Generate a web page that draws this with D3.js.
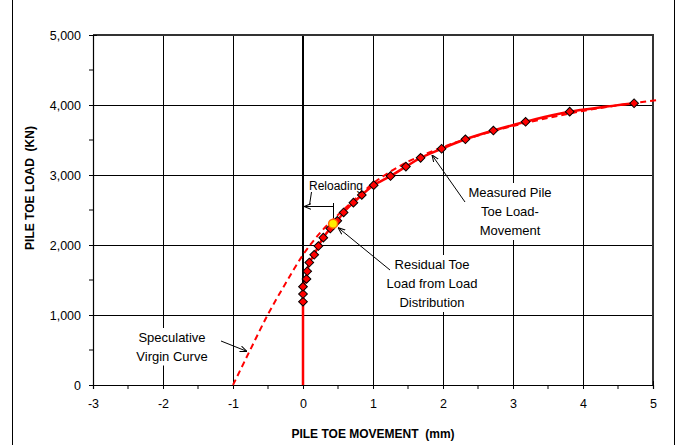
<!DOCTYPE html>
<html>
<head>
<meta charset="utf-8">
<script src="https://cdn.jsdelivr.net/npm/d3@7"></script>
<style>
  html, body { margin: 0; padding: 0; background: #fff; }
  svg { display: block; font-family: "Liberation Sans", Arial, sans-serif; }
</style>
</head>
<body>
<svg id="chart" width="680" height="445"></svg>
<script>
// Measured pile toe load vs. movement (reloading test)
const measuredMove = [0, 0, 0, 0.05, 0.06, 0.09, 0.16, 0.22, 0.29, 0.39, 0.49, 0.58, 0.72, 0.84, 1.01, 1.25, 1.47, 1.68, 1.98, 2.32, 2.72, 3.18, 3.81, 4.73];
const measuredLoad = [1190, 1300, 1405, 1515, 1625, 1750, 1860, 1985, 2105, 2235, 2345, 2465, 2605, 2715, 2855, 2985, 3120, 3245, 3375, 3510, 3635, 3760, 3905, 4025];

// Speculative virgin curve (dashed)
const virginMove = [-1.0, -0.75, -0.5, -0.25, 0, 0.25, 0.5, 0.75, 1.0, 1.25, 1.5, 1.75, 2.0, 2.5, 3.0, 3.5, 4.0, 4.5, 5.05];
const virginLoad = [0, 510, 1010, 1450, 1860, 2180, 2430, 2660, 2880, 3050, 3190, 3300, 3400, 3565, 3700, 3815, 3915, 3995, 4070];

// Residual toe load from load distribution
const residualMove = [0.43];
const residualLoad = [2305];

const xTicks = [-3, -2, -1, 0, 1, 2, 3, 4, 5];
const yTicks = [0, 1000, 2000, 3000, 4000, 5000];
const xTitle = "PILE TOE MOVEMENT\u00a0\u00a0(mm)";
const yTitle = "PILE TOE LOAD\u00a0\u00a0(KN)";

const svg = d3.select("#chart");
const plot = { left: 93, right: 653, top: 35, bottom: 385 };

const x = d3.scaleLinear().domain([-3, 5]).range([plot.left, plot.right]);
const y = d3.scaleLinear().domain([0, 5000]).range([plot.bottom, plot.top]);

// outer chart frame
svg.append("rect")
  .attr("x", 12.5).attr("y", -5).attr("width", 662).attr("height", 460)
  .attr("fill", "none").attr("stroke", "#000").attr("stroke-width", 1);

// gridlines
const grid = svg.append("g");
grid.selectAll("line.h").data(yTicks.filter(v => v > 0 && v < 5000)).join("line")
  .attr("x1", plot.left).attr("x2", plot.right)
  .attr("y1", d => Math.round(y(d)) + 0.5).attr("y2", d => Math.round(y(d)) + 0.5)
  .attr("stroke", "#000").attr("stroke-width", 1);
grid.selectAll("line.v").data(xTicks.filter(v => v > -3 && v < 5 && v !== 0)).join("line")
  .attr("x1", d => Math.round(x(d)) + 0.5).attr("x2", d => Math.round(x(d)) + 0.5)
  .attr("y1", plot.top).attr("y2", plot.bottom)
  .attr("stroke", "#000").attr("stroke-width", 1);
// zero-movement line
grid.append("line")
  .attr("x1", x(0)).attr("x2", x(0)).attr("y1", plot.top).attr("y2", plot.bottom)
  .attr("stroke", "#000").attr("stroke-width", 2);

// plot border (top and right)
svg.append("path")
  .attr("d", `M${plot.left},${plot.top}H${plot.right}V${plot.bottom}`)
  .attr("fill", "none").attr("stroke", "#333").attr("stroke-width", 2);

// axes
const plain = d => String(d);
const xAxis = d3.axisBottom(x).tickValues(xTicks).tickSize(4).tickPadding(10).tickFormat(plain);
const gx = svg.append("g").attr("transform", `translate(0,${plot.bottom})`).call(xAxis);
gx.select(".domain").attr("stroke", "#000").attr("stroke-width", 1.2);
gx.selectAll(".tick line").attr("y1", -4).attr("y2", 4);
gx.selectAll("text").attr("font-size", 12.5).attr("fill", "#000").attr("font-family", "Liberation Sans, Arial, sans-serif");
// minor ticks on x
svg.append("g").selectAll("line").data(d3.range(-2.5, 5, 1)).join("line")
  .attr("x1", d => x(d)).attr("x2", d => x(d))
  .attr("y1", plot.bottom).attr("y2", plot.bottom + 4)
  .attr("stroke", "#000");

const yAxis = d3.axisLeft(y).tickValues(yTicks).tickSize(4).tickPadding(8).tickFormat(d3.format(","));
const gy = svg.append("g").attr("transform", `translate(${plot.left},0)`).call(yAxis);
gy.select(".domain").attr("stroke", "#000").attr("stroke-width", 1.2);
gy.selectAll(".tick line").attr("x1", -4).attr("x2", 4);
gy.selectAll("text").attr("font-size", 12.5).attr("fill", "#000").attr("font-family", "Liberation Sans, Arial, sans-serif");
svg.append("g").selectAll("line").data(d3.range(500, 5000, 1000)).join("line")
  .attr("x1", plot.left - 4).attr("x2", plot.left)
  .attr("y1", d => y(d)).attr("y2", d => y(d))
  .attr("stroke", "#000");

// axis titles
svg.append("text")
  .attr("x", (plot.left + plot.right) / 2).attr("y", 438)
  .attr("text-anchor", "middle").attr("font-size", 12).attr("font-weight", "bold")
  .text(xTitle);
svg.append("text")
  .attr("transform", `translate(34,188) rotate(-90)`)
  .attr("text-anchor", "middle").attr("font-size", 12).attr("font-weight", "bold")
  .text(yTitle);

// series
const virgin = virginMove.map((m, i) => [m, virginLoad[i]]);
const measured = [[0, 0]].concat(measuredMove.map((m, i) => [m, measuredLoad[i]]));

const line = d3.line().x(d => x(d[0])).y(d => y(d[1])).curve(d3.curveMonotoneY);

svg.append("path").datum(virgin)
  .attr("d", d3.line().x(d => x(d[0])).y(d => y(d[1])).curve(d3.curveMonotoneX))
  .attr("fill", "none").attr("stroke", "#ff0000").attr("stroke-width", 2)
  .attr("stroke-dasharray", "6,4");

svg.append("path").datum(measured)
  .attr("d", line)
  .attr("fill", "none").attr("stroke", "#ff0000").attr("stroke-width", 2.5);

const diamond = d3.symbol(d3.symbolSquare, 38);
svg.append("g").selectAll("path").data(measured.slice(1)).join("path")
  .attr("d", diamond)
  .attr("transform", d => `translate(${x(d[0])},${y(d[1])}) rotate(45)`)
  .attr("fill", "#ff0000").attr("stroke", "#000").attr("stroke-width", 1);

svg.append("g").selectAll("circle").data(residualMove.map((m, i) => [m, residualLoad[i]])).join("circle")
  .attr("cx", d => x(d[0])).attr("cy", d => y(d[1])).attr("r", 4.5)
  .attr("fill", "#ffee00").attr("stroke", "#ff6600").attr("stroke-width", 1.5);

// annotations
const defs = svg.append("defs");
defs.append("marker").attr("id", "arr")
  .attr("viewBox", "0 0 10 10").attr("refX", 10).attr("refY", 5)
  .attr("markerWidth", 7).attr("markerHeight", 7).attr("orient", "auto-start-reverse")
  .attr("markerUnits", "userSpaceOnUse")
  .append("path").attr("d", "M0,1L10,5L0,9").attr("fill", "none").attr("stroke", "#000").attr("stroke-width", 1.5);

function note(lines, cx, cy, size, lineH) {
  const g = svg.append("g");
  const t = g.append("text").attr("text-anchor", "middle").attr("font-size", size).attr("fill", "#000");
  lines.forEach((s, i) => {
    t.append("tspan").attr("x", cx).attr("y", cy + i * lineH).text(s);
  });
  const b = t.node().getBBox();
  g.insert("rect", "text")
    .attr("x", b.x - 3).attr("y", b.y - 2).attr("width", b.width + 6).attr("height", b.height + 4)
    .attr("fill", "#fff");
  return g;
}

function arrow(x1, y1, x2, y2) {
  svg.append("line").attr("x1", x1).attr("y1", y1).attr("x2", x2).attr("y2", y2)
    .attr("stroke", "#000").attr("stroke-width", 1).attr("marker-end", "url(#arr)");
}

note(["Speculative", "Virgin Curve"], 172, 342, 13, 18.5);
arrow(221, 341, x(-0.8), y(480));

note(["Residual Toe", "Load from Load", "Distribution"], 432, 269, 13, 19);
arrow(390, 270, x(residualMove[0]) + 5, y(residualLoad[0]) + 4);

note(["Measured Pile", "Toe Load-", "Movement"], 510, 197, 13, 19);
arrow(465, 202, 432, 155);

// reloading bracket
svg.append("text").attr("x", 309).attr("y", 190).attr("font-size", 12).text("Reloading");
svg.append("line").attr("x1", 333).attr("y1", 206.5).attr("x2", x(0) + 1).attr("y2", 206.5)
  .attr("stroke", "#000").attr("stroke-width", 1).attr("marker-end", "url(#arr)");
svg.append("line").attr("x1", 333.5).attr("y1", 203).attr("x2", 333.5).attr("y2", 218)
  .attr("stroke", "#000").attr("stroke-width", 1);
svg.append("line").attr("x1", 311.5).attr("y1", 192).attr("x2", 309.5).attr("y2", 205)
  .attr("stroke", "#000").attr("stroke-width", 1);
</script>
</body>
</html>
